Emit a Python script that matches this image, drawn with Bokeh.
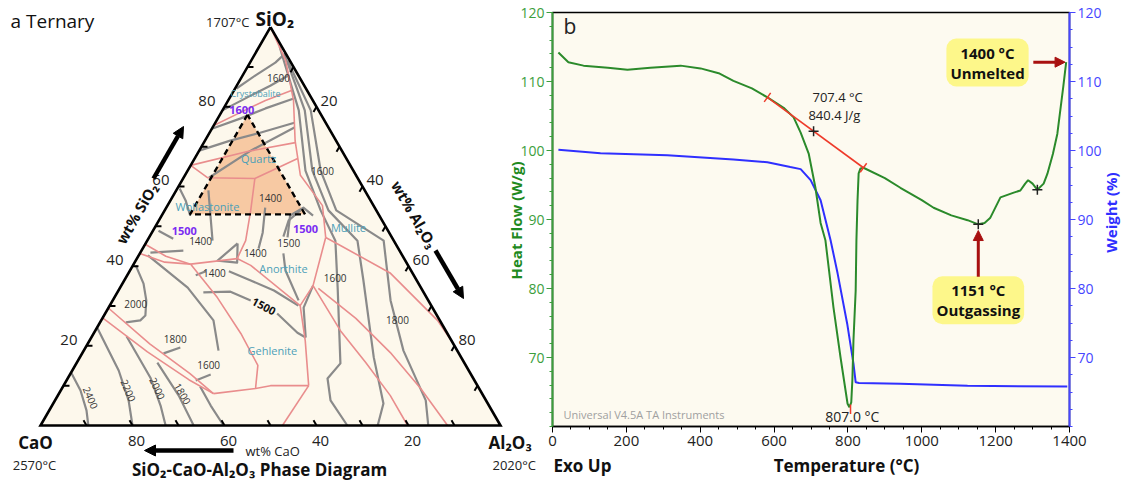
import math
from bokeh.plotting import figure
from bokeh.models import Range1d, LinearAxis, FixedTicker, Label, Arrow, NormalHead
from bokeh.core.properties import value
from bokeh.embed import file_html
from bokeh.resources import INLINE

FONT = "Open Sans"
H = math.sqrt(3) / 2

# ---------------- panel a : compositions as (wt% SiO2, wt% Al2O3) ----------------
P1 = [(100, 0), (91.6, 7.5), (81.6, 14.2), (71.5, 19.6), (62.8, 25.1), (57.7, 30.9), (55.2, 33.7), (47.2, 38.4)]
P2 = [(47.2, 38.4), (35.1, 41.7), (30.1, 41.4), (21.3, 46.9), (10.0, 53.3)]
P3 = [(47.2, 38.4), (45.2, 42.6), (38.2, 57.0), (26.4, 73.1), (20.9, 79.1)]
P4 = [(35.1, 41.7), (23.8, 53.3), (15.8, 62.8), (7.5, 72.3), (0, 79.8)]
P5 = [(34.4, 43.2), (26.9, 55.1), (18.3, 66.9), (9.3, 78.0), (0, 88.5)]
P6A = [(10.0, 53.3), (0, 52.6)]
P6B = [(10.0, 53.3), (10.0, 45.0), (9.3, 42.1), (8.0, 33.6)]
P7A = [(29.5, 0), (20.5, 13.5), (13.0, 26.0), (8.0, 33.6)]
P7B = [(27.0, 0), (18.5, 14.0), (11.5, 26.5), (8.0, 33.6)]
P9 = [(40.5, 12.4), (32.1, 22.4), (23.1, 32.0), (15.1, 39.7), (9.3, 42.1)]
P10A = [(45.5, 0), (42.5, 6.0), (40.5, 12.4)]
P10B = [(43.2, 0), (41.0, 6.5), (40.5, 12.4)]
P11 = [(40.5, 12.4), (41.9, 21.8), (40.2, 25.6), (30.1, 41.4)]
P12 = [(62.0, 15.6), (54.0, 18.7), (46.4, 21.4), (41.9, 21.8)]
P13 = [(65.3, 0), (62.2, 5.2), (62.0, 15.6), (65.0, 19.7), (67.0, 22.4)]
P14 = [(65.3, 0), (68.8, 10.6), (71.0, 19.9)]
P15 = [(75.3, 0), (78.6, 4.2), (81.6, 8.1), (84.1, 12.5)]
BOUNDARIES = [P1, P2, P3, P4, P5, P6A, P6B, P7A, P7B, P9, P10A, P10B, P11, P12, P13, P14, P15]

GA = [(84.6, 0.3), (87.9, 2.8), (91.1, 5.5), (92.9, 6.3)]
GB = [(79.1, 0), (82.8, 4.3), (85.3, 7.3), (87.9, 10.0)]
GC = [(74.5, 0), (77.1, 5.0), (79.6, 9.1), (82.0, 13.9)]
GD = [(69.0, 0), (71.5, 5.5), (73.5, 11.0), (76.0, 17.2)]
GE = [(62.2, 5.5), (69.0, 11.2), (74.8, 17.8)]
GX1 = [(59.5, 0.5), (56.5, 3.3), (52.7, 6.2)]
GV1 = [(95, 4.5), (79.1, 16.6), (64.0, 25.6), (54.0, 33.9), (46.4, 40.9), (34.6, 47.3), (15.6, 57.4), (11.8, 56.5), (6.3, 59.9), (0, 66.7)]
GV2 = [(93.5, 6.2), (79.1, 17.9), (64.0, 27.1), (54.0, 35.6), (46.4, 45.7), (36.4, 52.0), (17.1, 63.9), (5.5, 71.8), (0, 73.3)]
GV3 = [(91.5, 8.0), (79.1, 19.2), (64.0, 28.9), (54.0, 37.3), (46.4, 51.4), (31.4, 60.4), (18.8, 69.5), (6.3, 80.6), (0, 84.3)]
GW3A = [(37.7, 14.9), (38.7, 16.6)]
GW3B = [(38.7, 21.6), (36.4, 27.5), (33.9, 33.8), (30.1, 41.0)]
GW4A = [(33.4, 18.7), (33.6, 24.5), (31.4, 30.0)]
GW4B = [(28.1, 37.4), (23.3, 44.2), (22.1, 46.6)]
GTRI = [(45.7, 20.0), (41.4, 17.8), (40.9, 22.3), (45.7, 20.0)]
GW5A = [(54.0, 29.5), (51.5, 28.2), (47.4, 29.1)]
GW5B = [(43.2, 31.2), (38.9, 33.8), (31.4, 40.4)]
GW6 = [(35.1, 41.7), (29.6, 42.4), (22.1, 46.6)]
G1500R = [(47.2, 30.1), (52.7, 27.9), (54.7, 29.8), (52.7, 32.9)]
G1400A = [(54.7, 21.5), (48.4, 24.1), (44.4, 25.2)]
GWV = [(59.0, 7.0), (52.7, 10.6), (46.4, 14.2)]
G1400L = [(43.4, 2.2), (43.9, 9.1)]
GWOL = [(48.9, 1.2), (46.9, 5.4)]
G2400 = [(13.3, 0), (8.8, 4.3), (3.8, 8.1), (0, 10.4)]
G2200 = [(24.6, 0), (13.8, 10.1), (6.3, 16.0), (0, 20.0)]
G2000 = [(22.4, 7.5), (12.0, 17.9), (5.0, 23.6), (0, 27.2)]
G1800 = [(15.8, 17.5), (7.5, 26.3), (0, 33.3)]
G1600 = [(9.8, 29.8), (5.0, 34.5), (0, 39.8)]
GALPHA = [(40.2, 0.6), (35.6, 4.6), (31.4, 7.3), (27.6, 9.0), (26.4, 8.5), (25.9, 5.6)]
GBETA = [(42.7, 2.0), (34.6, 14.7), (26.4, 24.4), (18.8, 29.3)]
GBETA2 = [(18.1, 17.7), (19.6, 20.6)]
GGAMMA2 = [(11.3, 28.1), (12.8, 30.6)]
ISOTHERMS = [GA, GB, GC, GD, GE, GX1, GV1, GV2, GV3, GW3A, GW3B, GW4A, GW4B, GTRI, GW5A, GW5B, GW6,
             G1500R, G1400A, GWV, G1400L, GWOL, G2400, G2200, G2000, G1800, G1600,
             GALPHA, GBETA, GBETA2, GGAMMA2]

REGION = [(78, 6), (53, 6), (53, 31)]

ISO_TEXT = ["1600", "1600", "1400", "1400", "1400", "1500", "1400", "1600", "1800",
            "2000", "1800", "1600", "2400", "2200", "2000", "1800"]
ISO_POS = [(87.3, 8.1), (63.8, 29.4), (57.0, 21.5), (46.2, 11.7), (43.2, 25.1), (45.7, 31.1),
           (38.4, 18.6), (37.1, 45.5), (26.4, 64.4), (30.6, 5.4), (21.8, 18.4), (15.1, 29.0),
           (7.0, 7.4), (8.8, 14.7), (9.3, 20.8), (8.0, 26.9)]
ISO_ANGLE = [0, 0, 0, 0, 0, 0, 0, 0, 0, 0, 0, 0, -67, -67, -65, -60]
BOLD_TEXT = ["1500"]
BOLD_POS = [(29.9, 33.6)]
BOLD_ANGLE = [-28]

PHASE_TEXT = ["Crystobalite", "Quartz", "Wollastonite", "Mullite", "Anorthite", "Gehlenite"]
PHASE_POS = [(83.3, 5.1), (67.0, 13.9), (55.0, 8.8), (49.7, 42.1), (39.4, 33.1), (18.8, 41.0)]
PHASE_SIZE = ["9px", "11px", "11px", "11px", "11px", "11px"]

PURPLE_TEXT = ["1600", "1500", "1500"]
PURPLE_POS = [(79.1, 4.2), (48.9, 6.8), (49.4, 32.9)]

TICK_VALUES = [10, 20, 30, 40, 50, 60, 70, 80, 90]
TICK_LABELS = [20, 40, 60, 80]

# ---------------- panel b : DSC / TGA ----------------
T_HF = [16, 43, 84, 150, 203, 265, 347, 401, 450, 490, 540, 582, 626, 653, 672, 694, 712, 726, 739,
        761, 780, 799, 804, 809, 812, 815, 821, 823, 826, 829, 834, 842, 900, 942, 1000, 1032, 1080,
        1124, 1153, 1170, 1185, 1213, 1249, 1267, 1280, 1288, 1300, 1313, 1330, 1340, 1355, 1367,
        1383, 1391]
HF = [114.2, 112.8, 112.3, 112.0, 111.7, 112.0, 112.3, 111.9, 111.2, 110.1, 109.0, 107.7, 106.2,
      104.8, 102.6, 99.5, 94.6, 89.5, 87.0, 77.2, 70.0, 63.3, 62.8, 63.5, 66.7, 72.5, 79.7, 87.0,
      92.8, 96.7, 97.4, 97.5, 96.0, 94.6, 92.8, 91.7, 90.6, 89.9, 89.3, 89.5, 90.2, 93.2, 93.9,
      94.2, 95.2, 95.7, 95.2, 94.3, 95.2, 96.6, 99.5, 102.4, 109.2, 112.8]
T_W = [16, 130, 311, 490, 582, 644, 672, 699, 726, 753, 772, 798, 815, 821, 830, 942, 1124, 1394]
W = [100.1, 99.6, 99.3, 98.7, 98.3, 97.6, 97.3, 95.7, 92.8, 87.0, 82.2, 74.9, 69.1, 66.4, 66.3,
     66.2, 65.9, 65.8]
TAN_T = [582, 842]
TAN_HF = [107.7, 97.5]
CROSS_T = [707, 1153, 1313]
CROSS_HF = [102.8, 89.3, 94.3]
PEAK_T = 807.0
PEAK_HF = 62.8
ONSET_T = 707.4
ENTHALPY = 840.4
OUTGAS_T = 1151
END_T = 1400
X_TICKS = [0, 200, 400, 600, 800, 1000, 1200, 1400]
Y_TICKS = [70, 80, 90, 100, 110, 120]


def tern(pts):
    return [(a + s / 2) / 100 for s, a in pts], [s * H / 100 for s, a in pts]


def pos(px, py):
    # page-pixel placement helper for annotations drawn on the base canvas
    return (px - 40) / 460, (425 - py) / 460


# ======================= base canvas (panel a + outer texts) =======================
x0, _ = pos(0, 0)
x1, _ = pos(1124, 0)
_, y0 = pos(0, 480)
_, y1 = pos(0, 0)
p1 = figure(width=1124, height=480, x_range=Range1d(x0, x1), y_range=Range1d(y0, y1),
            output_backend="svg", toolbar_location=None, x_axis_type=None, y_axis_type=None,
            min_border=0)
p1.grid.visible = False
p1.outline_line_color = None

tx, ty = tern([(100, 0), (0, 0), (0, 100)])
p1.patch(tx, ty, fill_color="#fdf8ec", line_color=None)
rx, ry = tern(REGION)
p1.patch(rx, ry, fill_color="#f7c9a3", line_color=None)

gx, gy = zip(*[tern(l) for l in ISOTHERMS])
p1.multi_line(list(gx), list(gy), line_color="#8a8a8a", line_width=2.2, line_join="round")
bx, by = zip(*[tern(l) for l in BOUNDARIES])
p1.multi_line(list(bx), list(by), line_color="#e98d8d", line_width=1.6, line_join="round")

p1.line(rx + [rx[0]], ry + [ry[0]], line_color="black", line_width=2.4, line_dash="6 4")
p1.line(tx + [tx[0]], ty + [ty[0]], line_color="black", line_width=2.6, line_join="miter")

L = 0.013
lt = tern([(v, 0) for v in TICK_VALUES])
bt = tern([(0, 100 - v) for v in TICK_VALUES])
rt = tern([(100 - v, v) for v in TICK_VALUES])
p1.segment(lt[0], lt[1], [x + L for x in lt[0]], lt[1], line_color="black", line_width=2)
p1.segment(bt[0], bt[1], [x - 0.5 * L for x in bt[0]], [y + H * L for y in bt[1]], line_color="black", line_width=2)
p1.segment(rt[0], rt[1], [x - 0.5 * L for x in rt[0]], [y - H * L for y in rt[1]], line_color="black", line_width=2)

lab = [str(v) for v in TICK_LABELS]
ll = tern([(v, 0) for v in TICK_LABELS])
p1.text(ll[0], ll[1], text=lab, text_font=value(FONT), text_font_size="15px", text_align="right",
        text_baseline="middle", x_offset=-9, y_offset=-6, text_color="#222222")
rl = tern([(100 - v, v) for v in TICK_LABELS])
p1.text(rl[0], rl[1], text=lab, text_font=value(FONT), text_font_size="15px", text_align="left",
        text_baseline="middle", x_offset=4, y_offset=-6, text_color="#222222")
bl = tern([(0, 100 - v) for v in TICK_LABELS])
p1.text(bl[0], bl[1], text=lab, text_font=value(FONT), text_font_size="15px", text_align="center",
        text_baseline="middle", x_offset=4, y_offset=15, text_color="#222222")

ix, iy = tern(ISO_POS)
p1.text(ix, iy, text=ISO_TEXT, angle=[math.radians(a) for a in ISO_ANGLE], text_font=value(FONT),
        text_font_size="10px", text_align="center", text_baseline="middle", text_color="#333333")
bx2, by2 = tern(BOLD_POS)
p1.text(bx2, by2, text=BOLD_TEXT, angle=[math.radians(a) for a in BOLD_ANGLE], text_font=value(FONT),
        text_font_size="11px", text_font_style="bold", text_align="center", text_baseline="middle",
        text_color="#111111")
px_, py_ = tern(PHASE_POS)
p1.text(px_, py_, text=PHASE_TEXT, text_font=value(FONT), text_font_size=PHASE_SIZE,
        text_align="center", text_baseline="middle", text_color="#4c9fb8")
qx, qy = tern(PURPLE_POS)
p1.text(qx, qy, text=PURPLE_TEXT, text_font=value(FONT), text_font_size="11px", text_font_style="bold",
        text_align="center", text_baseline="middle", text_color="#7a2cf2")


def t1(px, py, text, size, style="normal", align="left", angle=0.0, color="#111111"):
    x, y = pos(px, py)
    p1.add_layout(Label(x=x, y=y, text=text, text_font=FONT, text_font_size=size, text_font_style=style,
                        text_align=align, text_baseline="middle", angle=angle, text_color=color))


t1(10, 20, "a  Ternary", "19px")
t1(249, 21, "1707°C", "13px", align="right", color="#222222")
t1(255, 18, "SiO₂", "19px", style="bold")
t1(35, 442, "CaO", "17px", style="bold", align="center")
t1(34, 464, "2570°C", "13px", align="center", color="#222222")
t1(245, 450, "wt% CaO", "13px", color="#222222")
t1(259, 469, "SiO₂-CaO-Al₂O₃ Phase Diagram", "17px", style="bold", align="center")
t1(136, 213, "wt% SiO₂", "15px", style="bold", align="center", angle=math.pi / 3)
t1(414, 214, "wt% Al₂O₃", "15px", style="bold", align="center", angle=-math.pi / 3)
t1(488, 442, "Al₂O₃", "17px", style="bold")
t1(492, 464, "2020°C", "13px", color="#222222")
# outer titles of panel b
t1(553, 465, "Exo Up", "17px", style="bold")
t1(846, 465, "Temperature (°C)", "17px", style="bold", align="center")
t1(515, 220, "Heat Flow (W/g)", "15px", style="bold", align="center", angle=math.pi / 2, color="#1f8a1f")
t1(1110, 212, "Weight (%)", "15px", style="bold", align="center", angle=math.pi / 2, color="#2f2fff")


def a1(pxs, pys, pxe, pye):
    xs, ys = pos(pxs, pys)
    xe, ye = pos(pxe, pye)
    p1.add_layout(Arrow(x_start=xs, y_start=ys, x_end=xe, y_end=ye, line_color="black", line_width=4.5,
                        end=NormalHead(size=11, fill_color="black", line_color="black")))


a1(153, 178, 183, 126)
a1(435, 250, 463, 298)
a1(233, 450, 144, 450)

# ======================= panel b =======================
GREEN = "#2b8a2b"
GREEN_AX = "#3c9e3c"
BLUE = "#2f2fff"
BLUE_AX = "#4646ff"

p2 = figure(width=622, height=480, x_range=Range1d(0, 1400), y_range=Range1d(60, 120),
            output_backend="svg", toolbar_location=None, min_border_left=50, min_border_right=55,
            min_border_top=12, min_border_bottom=54, background_fill_color="#fdfaf0",
            border_fill_color=None, margin=(0, 0, 0, -622))
p2.grid.visible = False
p2.outline_line_color = "black"
p2.outline_line_width = 1.5

xa = p2.xaxis[0]
xa.ticker = FixedTicker(ticks=X_TICKS, minor_ticks=list(range(0, 1401, 50)))
xa.major_label_text_font = FONT
xa.major_label_text_font_size = "15px"
xa.major_label_text_color = "#222222"
xa.axis_line_width = 1.5
xa.major_tick_out = 6
xa.major_tick_in = 0
xa.minor_tick_out = 3
xa.minor_tick_in = 0
xa.major_label_standoff = 3

ya = p2.yaxis[0]
ya.ticker = FixedTicker(ticks=Y_TICKS, minor_ticks=list(range(60, 121, 2)))
ya.major_label_text_font = FONT
ya.major_label_text_font_size = "14px"
ya.major_label_text_color = GREEN_AX
ya.major_label_standoff = 2
ya.axis_line_color = GREEN_AX
ya.axis_line_width = 2
ya.major_tick_line_color = GREEN_AX
ya.minor_tick_line_color = GREEN_AX
ya.major_tick_out = 6
ya.major_tick_in = 0
ya.minor_tick_out = 3
ya.minor_tick_in = 0

p2.extra_y_ranges = {"w": Range1d(60, 120)}
wa = LinearAxis(y_range_name="w", ticker=FixedTicker(ticks=Y_TICKS, minor_ticks=[60 + 2.5 * i for i in range(25)]))
wa.major_label_text_font = FONT
wa.major_label_text_font_size = "14px"
wa.major_label_text_color = BLUE_AX
wa.major_label_standoff = 2
wa.axis_line_color = BLUE_AX
wa.axis_line_width = 2
wa.major_tick_line_color = BLUE_AX
wa.minor_tick_line_color = BLUE_AX
wa.major_tick_out = 6
wa.major_tick_in = 0
wa.minor_tick_out = 3
wa.minor_tick_in = 0
p2.add_layout(wa, "right")

p2.line(T_W, W, y_range_name="w", line_color=BLUE, line_width=2)
p2.line(T_HF, HF, line_color=GREEN, line_width=2)
p2.line(TAN_T, TAN_HF, line_color="#ee3a2a", line_width=1.6)
p2.scatter(TAN_T, TAN_HF, marker="dash", size=11, angle=math.radians(54), line_color="#ee3a2a", line_width=1.5)
p2.segment([PEAK_T], [PEAK_HF - 1.0], [PEAK_T], [PEAK_HF + 0.4], line_color="#ee3a2a", line_width=1.5)
p2.scatter(CROSS_T, CROSS_HF, marker="cross", size=10, line_color="#222222", line_width=1.5)


def t2(x, y, text, size, style="normal", align="left", color="#222222", angle=0.0, **kw):
    p2.add_layout(Label(x=x, y=y, text=text, text_font=FONT, text_font_size=size, text_font_style=style,
                        text_align=align, text_baseline="middle", text_color=color, angle=angle, **kw))


t2(30, 118.0, "b", "21px")
t2(704, 107.7, f"{ONSET_T} °C", "13px")
t2(693, 105.2, f"{ENTHALPY} J/g", "13px")
t2(PEAK_T + 5, 61.45, f"{PEAK_T:.1f} °C", "14px", align="center")
t2(30, 61.7, "Universal V4.5A TA Instruments", "11px", color="#a0a0a0")
t2(1178, 112.75, f"{END_T} °C\nUnmelted", "15px", style="bold", align="center", color="#111111",
   background_fill_color="#fdf78a", padding=4, border_radius=10, text_line_height=1.0)
t2(OUTGAS_T + 2, 78.3, f"{OUTGAS_T} °C\nOutgassing", "15px", style="bold", align="center", color="#111111",
   background_fill_color="#fdf78a", padding=4, border_radius=10, text_line_height=1.0)

DARKRED = "#a81010"
p2.add_layout(Arrow(x_start=1302, y_start=HF[-1], x_end=T_HF[-1] - 3, y_end=HF[-1],
                    line_color=DARKRED, line_width=3,
                    end=NormalHead(size=10, fill_color=DARKRED, line_color=DARKRED)))
p2.add_layout(Arrow(x_start=CROSS_T[1], y_start=81.7, x_end=CROSS_T[1], y_end=CROSS_HF[1] - 0.9,
                    line_color=DARKRED, line_width=3,
                    end=NormalHead(size=10, fill_color=DARKRED, line_color=DARKRED)))

TEMPLATE = """{% block postamble %}<style>
body { display: flex !important; flex-direction: row; align-items: flex-start; }
</style>{% endblock %}"""

open("out.html", "w").write(file_html((p1, p2), INLINE, template=TEMPLATE))
